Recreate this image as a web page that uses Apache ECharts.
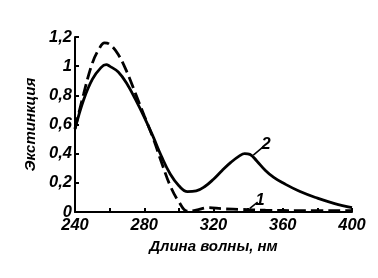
<!DOCTYPE html>
<html><head><meta charset="utf-8">
<script src="https://cdn.jsdelivr.net/npm/echarts@6/dist/echarts.min.js"></script>
<style>html,body{margin:0;padding:0;background:#fff}#c{width:378px;height:278px}</style>
</head><body><div id="c"></div>
<script>
var xTicks = [240, 280, 320, 360, 400];
var yTicks = [0, 0.2, 0.4, 0.6, 0.8, 1, 1.2];
var wl2 = [240,245,250,255,258,260,265,270,275,280,285,290,295,300,305,310,315,320,325,330,335,338,341,345,350,355,360,370,380,390,400];
var ext2 = [0.57,0.77,0.91,0.99,1.01,1.0,0.96,0.88,0.77,0.65,0.52,0.38,0.26,0.18,0.14,0.145,0.175,0.225,0.285,0.34,0.385,0.40,0.395,0.35,0.285,0.235,0.2,0.14,0.095,0.058,0.03];
var wl1 = [240,245,250,254,257,260,265,270,275,280,285,290,295,300,305,310,317,325,335,350,370,400];
var ext1 = [0.57,0.81,1.02,1.12,1.16,1.15,1.08,0.96,0.81,0.66,0.51,0.34,0.18,0.07,0.005,0.012,0.03,0.022,0.018,0.012,0.01,0.01];
var label1 = {name: '1', from: [341, 0.025], to: [345.5, 0.068]};
var label2 = {name: '2', from: [343, 0.39], to: [349, 0.45]};

function pairs(xs, ys){ return xs.map(function(x,i){return [x, ys[i]];}); }
var font = {fontFamily: 'Liberation Sans', fontWeight: 'bold', fontStyle: 'italic', fontSize: 15, color: '#000'};
var tickFont = Object.assign({}, font, {fontSize: 16.5});
function leader(l){
  return {symbol: ['none','none'], silent: true, animation: false,
    lineStyle: {color: '#000', width: 1.5, type: 'solid'},
    label: Object.assign({show: true, position: 'end', distance: 3, formatter: l.name}, tickFont),
    data: [[{coord: l.from}, {coord: l.to}]]};
}
var chart = echarts.init(document.getElementById('c'));
chart.setOption({
  animation: false,
  grid: {left: 75, right: 26, top: 37, bottom: 66},
  xAxis: {type: 'value', min: 240, max: 400, interval: 20,
    name: 'Длина волны, нм', nameLocation: 'middle', nameGap: 27,
    nameTextStyle: font,
    axisLine: {lineStyle: {color: '#000', width: 2}},
    axisTick: {inside: true, length: 4, lineStyle: {width: 2}},
    splitLine: {show: false},
    axisLabel: Object.assign({margin: 5, formatter: function(v){ return xTicks.indexOf(v) >= 0 ? String(v) : ''; }}, tickFont)
  },
  yAxis: {type: 'value', min: 0, max: 1.2, interval: 0.2,
    name: 'Экстинкция', nameLocation: 'middle', nameGap: 32,
    nameTextStyle: font,
    axisLine: {show: true, lineStyle: {color: '#000', width: 2}},
    axisTick: {show: true, inside: true, length: 4, lineStyle: {width: 2}},
    splitLine: {show: false},
    axisLabel: Object.assign({margin: 3, formatter: function(v){
      var t = yTicks.reduce(function(a,b){ return Math.abs(b-v) < Math.abs(a-v) ? b : a; });
      return String(t).replace('.', ',');
    }}, tickFont)
  },
  series: [
    {type: 'line', data: pairs(wl2, ext2), smooth: 0.4, showSymbol: false,
     lineStyle: {color: '#000', width: 2.8}, markLine: leader(label2)},
    {type: 'line', data: pairs(wl1, ext1), smooth: 0.4, showSymbol: false,
     lineStyle: {color: '#000', width: 2.8, type: [12, 5]}, markLine: leader(label1)}
  ]
});
</script></body></html>
